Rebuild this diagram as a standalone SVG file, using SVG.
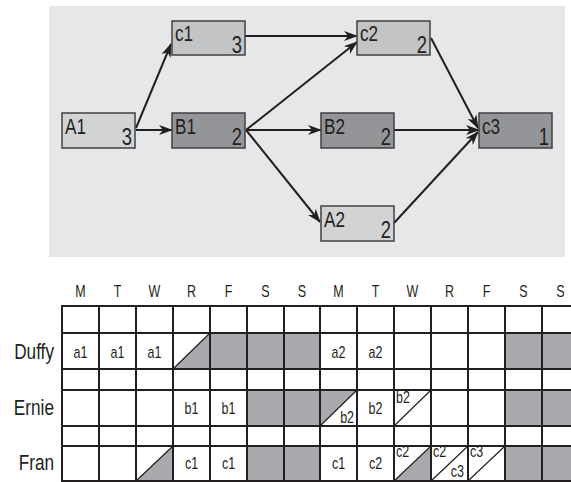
<svg xmlns="http://www.w3.org/2000/svg" width="571" height="482" viewBox="0 0 571 482">
<defs>
<marker id="ah" viewBox="0 0 14 10" refX="13" refY="5" markerWidth="14" markerHeight="10" markerUnits="userSpaceOnUse" orient="auto">
<path d="M0,0 L14,5 L0,10 L4,5 z" fill="#231f20"/>
</marker>
<style>
text{font-family:"Liberation Sans",Arial,sans-serif;fill:#231f20}
.nd rect{stroke:#414042;stroke-width:1.5}
.lt{fill:#d1d3d4}.md{fill:#c3c4c6}.dk{fill:#939598}
.lab{font-size:22px}
.num{font-size:23px;text-anchor:end}
.cn line{stroke:#231f20;stroke-width:2;marker-end:url(#ah)}
.day{font-size:16px;text-anchor:middle}
.who{font-size:21.5px;text-anchor:end}
.ct{font-size:16px;text-anchor:middle}
.cs{font-size:16px}
.ce{font-size:16px;text-anchor:end}
.g{fill:#a7a9ac}
.grid line{stroke:#231f20;stroke-width:2}
.dg line{stroke:#231f20;stroke-width:1.2}
</style>
</defs>
<rect x="49" y="6" width="516" height="251" fill="#e6e7e8"/>
<g class="cn">
<line x1="136" y1="128" x2="171" y2="44"/>
<line x1="136" y1="130" x2="172" y2="130"/>
<line x1="245" y1="36" x2="357" y2="36"/>
<line x1="246" y1="130" x2="357" y2="42"/>
<line x1="246" y1="130" x2="321" y2="130"/>
<line x1="246" y1="130" x2="320" y2="222"/>
<line x1="431" y1="38" x2="478" y2="128"/>
<line x1="394" y1="130" x2="479" y2="130"/>
<line x1="394" y1="223" x2="478" y2="132"/>
</g>
<g id="A1" class="nd"><rect class="lt" x="62" y="113" width="73" height="35"/><text class="lab" transform="matrix(.78 0 0 1 65 134)">A1</text><text class="num" transform="matrix(.8 0 0 1 132 144.5)">3</text></g>
<g id="c1" class="nd"><rect class="md" x="172" y="21" width="73" height="34"/><text class="lab" transform="matrix(.78 0 0 1 175 41)">c1</text><text class="num" transform="matrix(.8 0 0 1 242 52.5)">3</text></g>
<g id="B1" class="nd"><rect class="dk" x="172" y="113" width="73" height="35"/><text class="lab" transform="matrix(.78 0 0 1 175 134)">B1</text><text class="num" transform="matrix(.8 0 0 1 242 144.5)">2</text></g>
<g id="c2" class="nd"><rect class="md" x="357" y="21" width="73" height="34"/><text class="lab" transform="matrix(.78 0 0 1 360 41)">c2</text><text class="num" transform="matrix(.8 0 0 1 427 52.5)">2</text></g>
<g id="B2" class="nd"><rect class="dk" x="321" y="113" width="73" height="35"/><text class="lab" transform="matrix(.78 0 0 1 324 134)">B2</text><text class="num" transform="matrix(.8 0 0 1 391 144.5)">2</text></g>
<g id="A2" class="nd"><rect class="lt" x="321" y="206" width="73" height="35"/><text class="lab" transform="matrix(.78 0 0 1 324 227)">A2</text><text class="num" transform="matrix(.8 0 0 1 391 237.5)">2</text></g>
<g id="c3" class="nd"><rect class="dk" x="479" y="113" width="73" height="35"/><text class="lab" transform="matrix(.78 0 0 1 482 134)">c3</text><text class="num" transform="matrix(.8 0 0 1 549 144.5)">1</text></g>
<g id="days">
<text class="day" transform="matrix(.78 0 0 1 80.5 297)">M</text><text class="day" transform="matrix(.78 0 0 1 117.5 297)">T</text><text class="day" transform="matrix(.78 0 0 1 154.5 297)">W</text><text class="day" transform="matrix(.78 0 0 1 191.5 297)">R</text><text class="day" transform="matrix(.78 0 0 1 228.5 297)">F</text><text class="day" transform="matrix(.78 0 0 1 265.5 297)">S</text><text class="day" transform="matrix(.78 0 0 1 302 297)">S</text>
<text class="day" transform="matrix(.78 0 0 1 338.5 297)">M</text><text class="day" transform="matrix(.78 0 0 1 375.5 297)">T</text><text class="day" transform="matrix(.78 0 0 1 412.5 297)">W</text><text class="day" transform="matrix(.78 0 0 1 449.5 297)">R</text><text class="day" transform="matrix(.78 0 0 1 486.5 297)">F</text><text class="day" transform="matrix(.78 0 0 1 523.5 297)">S</text><text class="day" transform="matrix(.78 0 0 1 560.5 297)">S</text>
</g>
<g id="people">
<text class="who" transform="matrix(.8 0 0 1 54 359)">Duffy</text>
<text class="who" transform="matrix(.8 0 0 1 54 415)">Ernie</text>
<text class="who" transform="matrix(.8 0 0 1 54 470)">Fran</text>
</g>
<g id="cells">
<rect x="62" y="306" width="517" height="175" fill="#ffffff"/>
<rect class="g" x="210" y="333" width="110" height="36"/>
<rect class="g" x="505" y="333" width="74" height="36"/>
<rect class="g" x="247" y="390" width="73" height="36"/>
<rect class="g" x="505" y="390" width="74" height="36"/>
<rect class="g" x="247" y="446" width="73" height="35"/>
<rect class="g" x="505" y="446" width="74" height="35"/>
<polygon class="g" points="173,369 210,333 210,369"/>
<polygon class="g" points="320,390 357,390 320,426"/>
<polygon class="g" points="136,481 173,446 173,481"/>
<polygon class="g" points="394,481 431,446 431,481"/>
</g>
<g class="dg">
<line x1="173" y1="369" x2="210" y2="333"/>
<line x1="320" y1="426" x2="357" y2="390"/>
<line x1="394" y1="426" x2="431" y2="390"/>
<line x1="136" y1="481" x2="173" y2="446"/>
<line x1="394" y1="481" x2="431" y2="446"/>
<line x1="431" y1="481" x2="468" y2="446"/>
<line x1="468" y1="481" x2="505" y2="446"/>
</g>
<g class="grid">
<line x1="62" y1="306" x2="579" y2="306"/>
<line x1="62" y1="333" x2="579" y2="333"/>
<line x1="62" y1="369" x2="579" y2="369"/>
<line x1="62" y1="390" x2="579" y2="390"/>
<line x1="62" y1="426" x2="579" y2="426"/>
<line x1="62" y1="446" x2="579" y2="446"/>
<line x1="62" y1="481" x2="579" y2="481"/>
<line x1="62" y1="305" x2="62" y2="482"/>
<line x1="99" y1="305" x2="99" y2="482"/>
<line x1="136" y1="305" x2="136" y2="482"/>
<line x1="173" y1="305" x2="173" y2="482"/>
<line x1="210" y1="305" x2="210" y2="482"/>
<line x1="247" y1="305" x2="247" y2="482"/>
<line x1="284" y1="305" x2="284" y2="482"/>
<line x1="320" y1="305" x2="320" y2="482"/>
<line x1="357" y1="305" x2="357" y2="482"/>
<line x1="394" y1="305" x2="394" y2="482"/>
<line x1="431" y1="305" x2="431" y2="482"/>
<line x1="468" y1="305" x2="468" y2="482"/>
<line x1="505" y1="305" x2="505" y2="482"/>
<line x1="542" y1="305" x2="542" y2="482"/>
</g>
<g id="celltext">
<text class="ct" transform="matrix(.78 0 0 1 80.5 358)">a1</text><text class="ct" transform="matrix(.78 0 0 1 117.5 358)">a1</text><text class="ct" transform="matrix(.78 0 0 1 154.5 358)">a1</text>
<text class="ct" transform="matrix(.78 0 0 1 338.5 358)">a2</text><text class="ct" transform="matrix(.78 0 0 1 375.5 358)">a2</text>
<text class="ct" transform="matrix(.78 0 0 1 191.5 414)">b1</text><text class="ct" transform="matrix(.78 0 0 1 228.5 414)">b1</text>
<text class="ce" transform="matrix(.78 0 0 1 354 423)">b2</text>
<text class="ct" transform="matrix(.78 0 0 1 375.5 414)">b2</text>
<text class="cs" transform="matrix(.78 0 0 1 396 403)">b2</text>
<text class="ct" transform="matrix(.78 0 0 1 191.5 469)">c1</text><text class="ct" transform="matrix(.78 0 0 1 228.5 469)">c1</text>
<text class="ct" transform="matrix(.78 0 0 1 338.5 469)">c1</text><text class="ct" transform="matrix(.78 0 0 1 375.5 469)">c2</text>
<text class="cs" transform="matrix(.78 0 0 1 396 457)">c2</text>
<text class="cs" transform="matrix(.78 0 0 1 433 457)">c2</text>
<text class="ce" transform="matrix(.78 0 0 1 464 477)">c3</text>
<text class="cs" transform="matrix(.78 0 0 1 470 457)">c3</text>
</g>
</svg>
